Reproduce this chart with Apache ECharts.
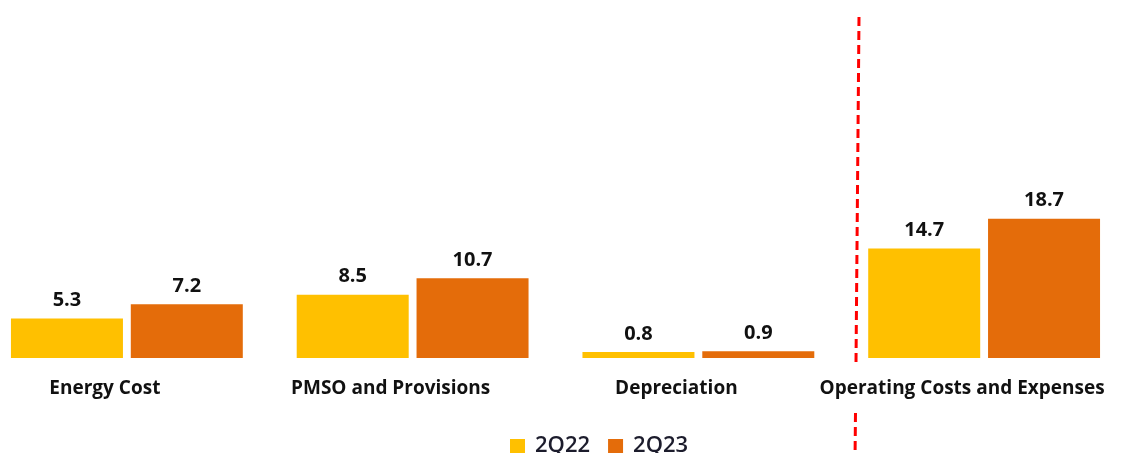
<!DOCTYPE html>
<html>
<head>
<meta charset="utf-8">
<script src="https://cdn.jsdelivr.net/npm/echarts@6/dist/echarts.min.js"></script>
<style>
  html, body { margin: 0; padding: 0; background: #ffffff; }
  #chart { width: 1134px; height: 453px; }
</style>
</head>
<body>
<div id="chart"></div>
<script>
// Cost breakdown by quarter
const categories = ['Energy Cost', 'PMSO and Provisions', 'Depreciation', 'Operating Costs and Expenses'];
const seriesNames = ['2Q22', '2Q23'];
const values2Q22 = [5.3, 8.5, 0.8, 14.7];
const values2Q23 = [7.2, 10.7, 0.9, 18.7];

const FONT = '"Open Sans", Lato, sans-serif';

const chart = echarts.init(document.getElementById('chart'), null, { renderer: 'canvas' });

const labelStyle = {
  show: true,
  position: 'top',
  distance: 8,
  fontFamily: FONT,
  fontWeight: 'bold',
  fontSize: 20,
  color: '#111111',
  formatter: p => p.value.toFixed(1)
};

chart.setOption({
  animation: false,
  backgroundColor: '#ffffff',
  grid: { left: -16, right: 7, top: 209, bottom: 95, containLabel: false, outerBoundsMode: 'none' },
  legend: {
    data: seriesNames,
    left: 505,
    top: 430,
    icon: 'rect',
    itemWidth: 15,
    itemHeight: 14,
    itemGap: 18,
    textStyle: { fontFamily: FONT, fontSize: 22, fontWeight: 600, color: '#1c1c2c', padding: [0, 0, 0, 5] }
  },
  xAxis: {
    type: 'category',
    data: categories,
    axisLine: { show: false },
    axisTick: { show: false },
    axisLabel: {
      margin: 21,
      fontFamily: FONT,
      fontWeight: 'bold',
      fontSize: 19,
      color: '#111111',
      interval: 0,
      // category names sit slightly left of their bar pair
      padding: [0, 44, 0, 0]
    }
  },
  yAxis: {
    type: 'value',
    min: 0,
    max: 20,
    show: false,
    splitLine: { show: false }
  },
  series: [
    {
      name: seriesNames[0],
      type: 'bar',
      data: values2Q22,
      barWidth: 112,
      barGap: '7%',
      itemStyle: { color: '#FFC000' },
      label: labelStyle
    },
    {
      name: seriesNames[1],
      type: 'bar',
      data: values2Q23,
      barWidth: 112,
      barGap: '7%',
      itemStyle: { color: '#E46C0A' },
      label: labelStyle
    }
  ],
  // Red dashed divider separating the total from its components
  graphic: [
    {
      type: 'line',
      shape: { x1: 859, y1: 17, x2: 856, y2: 362 },
      style: { stroke: '#FF0000', lineWidth: 3, lineDash: [9, 5] }
    },
    {
      type: 'line',
      shape: { x1: 855.5, y1: 413, x2: 855, y2: 460 },
      style: { stroke: '#FF0000', lineWidth: 3, lineDash: [9, 5] }
    }
  ]
});
</script>
</body>
</html>
